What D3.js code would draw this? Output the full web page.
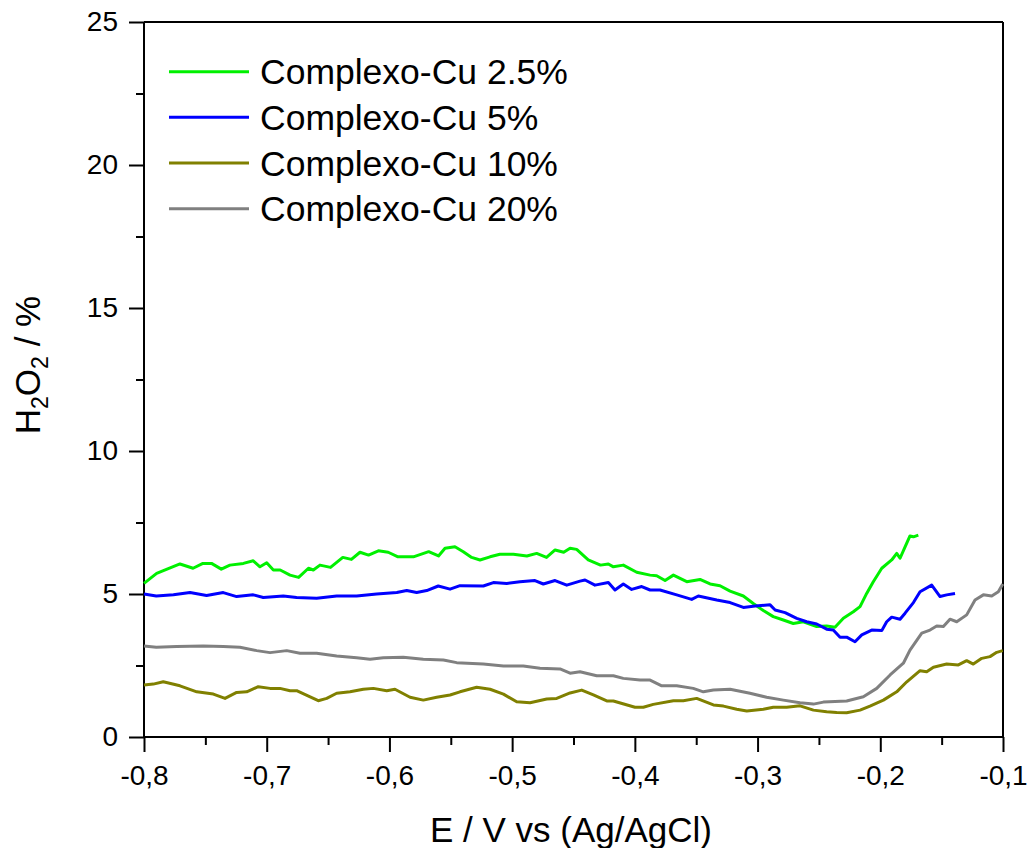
<!DOCTYPE html>
<html>
<head>
<meta charset="utf-8">
<script src="https://cdn.jsdelivr.net/npm/d3@7"></script>
<style>
  body { margin: 0; background: #fff; }
  text { font-family: "Liberation Sans", Arial, sans-serif; fill: #000; }
</style>
</head>
<body>
<svg id="chart"></svg>
<script>
const width = 1030;
const height = 848;
const margin = {top: 22, right: 27, bottom: 111, left: 144};

// valores: [E (V), H2O2 (%)]
const cu25 = [
  [-0.8, 5.37], [-0.7897, 5.72], [-0.7707, 6.05], [-0.76, 5.9], [-0.752, 6.07], [-0.745, 6.07],
  [-0.737, 5.87], [-0.73, 6.01], [-0.719, 6.07], [-0.711, 6.16], [-0.7055, 5.95], [-0.7, 6.09],
  [-0.6946, 5.84], [-0.689, 5.84], [-0.681, 5.66], [-0.674, 5.58], [-0.666, 5.9], [-0.662, 5.84],
  [-0.6566, 6.01], [-0.648, 5.93], [-0.638, 6.28], [-0.631, 6.21], [-0.624, 6.46], [-0.617, 6.36],
  [-0.609, 6.51], [-0.601, 6.46], [-0.593, 6.3], [-0.5805, 6.3], [-0.568, 6.48], [-0.56, 6.33],
  [-0.5547, 6.6], [-0.5466, 6.65], [-0.5398, 6.48], [-0.533, 6.28], [-0.5262, 6.19], [-0.518, 6.3],
  [-0.51, 6.39], [-0.499, 6.39], [-0.488, 6.33], [-0.48, 6.42], [-0.472, 6.28], [-0.465, 6.54],
  [-0.458, 6.46], [-0.4528, 6.6], [-0.4474, 6.56], [-0.438, 6.19], [-0.428, 6.01], [-0.4216, 6.05],
  [-0.4175, 5.95], [-0.4094, 6.01], [-0.3985, 5.76], [-0.3876, 5.66], [-0.3822, 5.64], [-0.3754, 5.47],
  [-0.3686, 5.66], [-0.3577, 5.43], [-0.3469, 5.51], [-0.3387, 5.35], [-0.3306, 5.29], [-0.3224, 5.1],
  [-0.3116, 4.93], [-0.3035, 4.67], [-0.2953, 4.42], [-0.2872, 4.21], [-0.279, 4.09], [-0.2709, 3.97],
  [-0.2627, 4.03], [-0.2518, 3.86], [-0.2437, 3.88], [-0.2369, 3.84], [-0.2301, 4.15], [-0.222, 4.38],
  [-0.2165, 4.56], [-0.2111, 5.02], [-0.2057, 5.43], [-0.1988, 5.9], [-0.1907, 6.19], [-0.1866, 6.42],
  [-0.1839, 6.25], [-0.1798, 6.65], [-0.1758, 7.03], [-0.173, 7.0], [-0.169, 7.06]
];

const cu5 = [
  [-0.8, 5.0], [-0.79, 4.93], [-0.776, 4.97], [-0.7625, 5.05], [-0.749, 4.95], [-0.7354, 5.05],
  [-0.7245, 4.91], [-0.711, 4.97], [-0.7028, 4.88], [-0.6865, 4.93], [-0.6756, 4.88], [-0.6593, 4.85],
  [-0.643, 4.93], [-0.6267, 4.93], [-0.6104, 5.0], [-0.594, 5.05], [-0.5859, 5.12], [-0.5778, 5.05],
  [-0.5696, 5.12], [-0.5602, 5.28], [-0.5506, 5.17], [-0.5425, 5.29], [-0.5235, 5.28], [-0.5153, 5.4],
  [-0.5044, 5.37], [-0.4936, 5.43], [-0.4814, 5.47], [-0.4746, 5.35], [-0.465, 5.47], [-0.4555, 5.31],
  [-0.4447, 5.45], [-0.4406, 5.49], [-0.4325, 5.31], [-0.4216, 5.4], [-0.4162, 5.14], [-0.4094, 5.35],
  [-0.4026, 5.16], [-0.3944, 5.26], [-0.3876, 5.14], [-0.3795, 5.14], [-0.3659, 4.97], [-0.3537, 4.81],
  [-0.3483, 4.93], [-0.3333, 4.79], [-0.3224, 4.7], [-0.3116, 4.53], [-0.302, 4.58], [-0.2898, 4.62],
  [-0.2857, 4.44], [-0.2776, 4.35], [-0.2681, 4.15], [-0.26, 4.03], [-0.2518, 3.95], [-0.2437, 3.77],
  [-0.2383, 3.74], [-0.2328, 3.49], [-0.2274, 3.49], [-0.2206, 3.33], [-0.2151, 3.57], [-0.207, 3.74],
  [-0.1988, 3.72], [-0.1948, 4.03], [-0.1907, 4.19], [-0.1839, 4.12], [-0.1798, 4.33], [-0.173, 4.7],
  [-0.1676, 5.08], [-0.1581, 5.31], [-0.1513, 4.91], [-0.1459, 4.97], [-0.1391, 5.02]
];

const cu10 = [
  [-0.8, 1.82], [-0.7924, 1.85], [-0.7843, 1.93], [-0.7707, 1.79], [-0.757, 1.58], [-0.7435, 1.5],
  [-0.734, 1.35], [-0.7245, 1.56], [-0.7163, 1.58], [-0.7069, 1.76], [-0.6973, 1.7], [-0.6892, 1.7],
  [-0.681, 1.62], [-0.6756, 1.62], [-0.658, 1.27], [-0.6511, 1.35], [-0.643, 1.53], [-0.6321, 1.58],
  [-0.6213, 1.67], [-0.6131, 1.7], [-0.6022, 1.62], [-0.5955, 1.67], [-0.5832, 1.39], [-0.5724, 1.29],
  [-0.5615, 1.39], [-0.5506, 1.47], [-0.5425, 1.58], [-0.5289, 1.74], [-0.518, 1.67], [-0.5071, 1.5],
  [-0.4963, 1.23], [-0.4854, 1.2], [-0.4718, 1.33], [-0.4637, 1.35], [-0.4528, 1.54], [-0.4433, 1.64],
  [-0.4338, 1.47], [-0.4229, 1.26], [-0.4175, 1.26], [-0.3999, 1.04], [-0.3931, 1.04], [-0.385, 1.14],
  [-0.3686, 1.27], [-0.3605, 1.27], [-0.3496, 1.35], [-0.336, 1.12], [-0.3278, 1.08], [-0.317, 0.97],
  [-0.3088, 0.91], [-0.2953, 0.97], [-0.2872, 1.04], [-0.2763, 1.04], [-0.2654, 1.09], [-0.2545, 0.94],
  [-0.2437, 0.88], [-0.2355, 0.86], [-0.2274, 0.85], [-0.2165, 0.94], [-0.2084, 1.08], [-0.1975, 1.29],
  [-0.1866, 1.58], [-0.1784, 1.93], [-0.1676, 2.32], [-0.1622, 2.28], [-0.1567, 2.44], [-0.1459, 2.55],
  [-0.1364, 2.52], [-0.1296, 2.67], [-0.1242, 2.55], [-0.1173, 2.75], [-0.1106, 2.81], [-0.1051, 2.96],
  [-0.1002, 3.02]
];

const cu20 = [
  [-0.8, 3.18], [-0.79, 3.14], [-0.7734, 3.16], [-0.7517, 3.18], [-0.7354, 3.16], [-0.7218, 3.14],
  [-0.7082, 3.02], [-0.6973, 2.95], [-0.6837, 3.02], [-0.6729, 2.93], [-0.6593, 2.93], [-0.643, 2.83],
  [-0.6267, 2.77], [-0.6158, 2.72], [-0.605, 2.77], [-0.5887, 2.79], [-0.5724, 2.72], [-0.556, 2.69],
  [-0.5452, 2.6], [-0.5235, 2.55], [-0.5071, 2.48], [-0.4909, 2.48], [-0.4773, 2.4], [-0.461, 2.38],
  [-0.4528, 2.23], [-0.4447, 2.28], [-0.4311, 2.14], [-0.4175, 2.14], [-0.4094, 2.05], [-0.3958, 1.99],
  [-0.3876, 1.99], [-0.3781, 1.79], [-0.3659, 1.79], [-0.3524, 1.7], [-0.3442, 1.58], [-0.336, 1.64],
  [-0.3224, 1.67], [-0.3062, 1.53], [-0.2926, 1.39], [-0.279, 1.29], [-0.2654, 1.2], [-0.2545, 1.15],
  [-0.2464, 1.22], [-0.2274, 1.26], [-0.2138, 1.41], [-0.2029, 1.7], [-0.192, 2.17], [-0.1812, 2.58],
  [-0.1758, 3.04], [-0.1662, 3.63], [-0.1595, 3.74], [-0.154, 3.88], [-0.1486, 3.86], [-0.1432, 4.12],
  [-0.1377, 4.03], [-0.1296, 4.27], [-0.1228, 4.79], [-0.116, 4.97], [-0.1092, 4.93], [-0.1038, 5.08],
  [-0.1002, 5.35]
];

const seriesNames = ['Complexo-Cu 2.5%', 'Complexo-Cu 5%', 'Complexo-Cu 10%', 'Complexo-Cu 20%'];
const seriesData = [cu25, cu5, cu10, cu20];
const colors = ['#00f000', '#0000ff', '#808000', '#808080'];
const xTicks = [-0.8, -0.7, -0.6, -0.5, -0.4, -0.3, -0.2, -0.1];
const yTicks = [0, 5, 10, 15, 20, 25];

const svg = d3.select('#chart').attr('width', width).attr('height', height);

const x = d3.scaleLinear().domain([-0.8, -0.1]).range([margin.left, width - margin.right]);
const y = d3.scaleLinear().domain([0, 25]).range([height - margin.bottom, margin.top]);

// caixa: linhas de cima e da direita
svg.append('line')
  .attr('x1', x(-0.8)).attr('x2', x(-0.1)).attr('y1', y(25)).attr('y2', y(25))
  .attr('stroke', '#000').attr('stroke-width', 2);
svg.append('line')
  .attr('x1', x(-0.1)).attr('x2', x(-0.1)).attr('y1', y(0)).attr('y2', y(25))
  .attr('stroke', '#000').attr('stroke-width', 2);

// ticks menores
const xMinor = d3.range(-0.75, -0.1, 0.1);
const yMinor = d3.range(2.5, 25, 5);

const xAxisMinor = svg.append('g').attr('transform', `translate(0,${y(0)})`)
  .call(d3.axisBottom(x).tickValues(xMinor).tickSize(8).tickFormat(''));
const yAxisMinor = svg.append('g').attr('transform', `translate(${x(-0.8)},0)`)
  .call(d3.axisLeft(y).tickValues(yMinor).tickSize(8).tickFormat(''));

const xAxis = svg.append('g').attr('transform', `translate(0,${y(0)})`)
  .call(d3.axisBottom(x).tickValues(xTicks).tickSize(15).tickPadding(13)
    .tickFormat(d => d3.format('.1f')(d).replace('.', ',').replace('−', '-')));
const yAxis = svg.append('g').attr('transform', `translate(${x(-0.8)},0)`)
  .call(d3.axisLeft(y).tickValues(yTicks).tickSize(15).tickPadding(11));

[xAxis, yAxis, xAxisMinor, yAxisMinor].forEach(g => {
  g.select('.domain').attr('stroke-width', 2);
  g.selectAll('.tick line').attr('stroke-width', 2);
  g.selectAll('text').style('font-size', '28px').style('font-family', '"Liberation Sans", Arial, sans-serif');
});
xAxisMinor.select('.domain').remove();
yAxisMinor.select('.domain').remove();
xAxis.select('.domain').attr('d', `M${x(-0.8)},0H${x(-0.1)}`);
yAxis.select('.domain').attr('d', `M0,${y(0)}V${y(25)}`);

// curvas
const line = d3.line().x(d => x(d[0])).y(d => y(d[1]));
seriesData.forEach((s, i) => {
  svg.append('path')
    .datum(s)
    .attr('d', line)
    .attr('fill', 'none')
    .attr('stroke', colors[i])
    .attr('stroke-width', 3)
    .attr('stroke-linejoin', 'round');
});

// legenda
const legend = svg.append('g').attr('transform', 'translate(169,71.7)');
seriesNames.forEach((name, i) => {
  const row = legend.append('g').attr('transform', `translate(0,${i * 45.67})`);
  row.append('line').attr('x1', 0).attr('x2', 80).attr('y1', 0).attr('y2', 0)
    .attr('stroke', colors[i]).attr('stroke-width', 3);
  row.append('text').attr('x', 91).attr('y', 12.5).style('font-size', '35.5px').text(name);
});

// títulos dos eixos
svg.append('text')
  .attr('x', 571).attr('y', 842)
  .attr('text-anchor', 'middle')
  .style('font-size', '35px')
  .text('E / V vs (Ag/AgCl)');

const yLabel = svg.append('text')
  .attr('transform', 'translate(40,365) rotate(-90)')
  .attr('text-anchor', 'middle')
  .style('font-size', '35px');
yLabel.append('tspan').text('H');
yLabel.append('tspan').attr('dy', 8).style('font-size', '23px').text('2');
yLabel.append('tspan').attr('dy', -8).text('O');
yLabel.append('tspan').attr('dy', 8).style('font-size', '23px').text('2');
yLabel.append('tspan').attr('dy', -8).text(' / %');
</script>
</body>
</html>
